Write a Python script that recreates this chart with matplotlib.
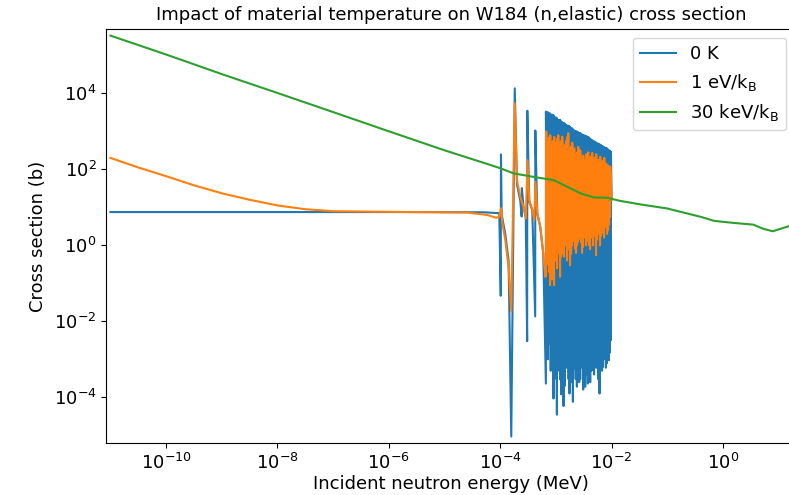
import numpy as np
import matplotlib
matplotlib.use("Agg")
import matplotlib.pyplot as plt
import matplotlib.ticker as mticker

# ---------------- data (MeV, barns) ----------------
# 0 K : smooth part below the first resonance
blue_smooth_E = [1e-11, 1e-8, 1e-6, 5e-5, 9.6e-5]
blue_smooth_xs = [7.5, 7.5, 7.5, 7.4, 7.0]

# 0 K : isolated resonances / between-resonance points (energy, cross section)
blue_iso_E = [1.02e-4, 1.03e-4, 1.06e-4, 1.23e-4, 1.41e-4, 1.576e-4, 1.821e-4,
              1.995e-4, 2.286e-4, 2.42e-4, 2.44e-4, 2.62e-4, 2.87e-4,
              3.04e-4, 3.06e-4, 3.316e-4, 3.753e-4, 4.24e-4, 4.26e-4,
              4.616e-4, 5.226e-4, 5.916e-4]
blue_iso_xs = [0.047, 245, 6.5, 2.0, 0.4, 9.3e-6, 1.35e4,
               40, 15, 5.75, 32, 10, 6,
               3.0e-3, 3.47e3, 14, 8.5, 0.0135, 1.05e3,
               7, 3, 0.6]

# 0 K : dense resonance forest (resonance energy, peak, dip)
blue_forest_E = [6.61e-4, 7.74e-4, 8.41e-4, 9.05e-4, 9.71e-4, 1.042e-3, 1.132e-3,
                 1.245e-3, 1.369e-3, 1.512e-3, 1.629e-3, 1.754e-3, 1.883e-3,
                 2.020e-3, 2.158e-3, 2.382e-3, 2.619e-3, 2.845e-3, 3.091e-3,
                 3.357e-3, 3.753e-3, 4.128e-3, 4.616e-3, 5.077e-3, 5.514e-3,
                 6.066e-3, 6.506e-3, 6.98e-3, 7.58e-3, 8.23e-3, 8.94e-3, 9.71e-3]
blue_forest_peak = [3.3e3, 3.0e3, 2.5e3, 2.6e3, 2.0e3, 2.2e3, 1.9e3,
                    1.8e3, 1.66e3, 1.48e3, 1.26e3, 1.32e3, 1.12e3,
                    1.12e3, 1.0e3, 980, 890, 830, 790,
                    760, 710, 630, 560, 525, 480,
                    450, 420, 400, 370, 355, 316, 290]
blue_forest_dip = [2.3e-4, 2.6e-3, 6.3e-2, 9.3e-5, 1.0e-2, 3.5e-5, 2.1e-3,
                   1.2e-4, 5.9e-5, 1.5e-3, 1.6e-2, 1.26e-4, 1.4e-3,
                   7.6e-5, 5.8e-4, 1.9e-4, 2.5e-4, 4.0e-2, 1.6e-4,
                   1.9e-4, 2.3e-4, 2.5e-4, 1.4e-3, 9.5e-4, 6.3e-2,
                   1.26e-4, 4.3e-3, 6.3e-4, 1.9e-3, 7.9e-4, 9.5e-4, 3.2e-3]
# 0 K : further, smaller resonances lying between the ones above
blue_forest2_E = [7.15e-4, 8.07e-4, 8.72e-4, 9.37e-4, 1.006e-3, 1.086e-3, 1.187e-3,
                  1.306e-3, 1.439e-3, 1.569e-3, 1.69e-3, 1.817e-3, 1.95e-3,
                  2.088e-3, 2.267e-3, 2.498e-3, 2.73e-3, 2.965e-3, 3.221e-3,
                  3.55e-3, 3.936e-3, 4.365e-3, 4.841e-3, 5.29e-3, 5.783e-3,
                  6.282e-3, 6.739e-3, 7.274e-3, 7.9e-3, 8.578e-3, 9.317e-3]
blue_forest2_peak = [3.2e3, 2.8e3, 2.7e3, 2.4e3, 2.3e3, 2.0e3, 2.0e3,
                     1.7e3, 1.6e3, 1.45e3, 1.4e3, 1.25e3, 1.2e3,
                     1.08e3, 1.02e3, 950, 900, 820, 780,
                     740, 680, 600, 545, 500, 470,
                     440, 410, 385, 365, 335, 305]
blue_forest2_dip = [1.0e-3, 5e-4, 2e-3, 3e-4, 1e-3, 5e-4, 3e-4,
                    1e-3, 2e-4, 6e-4, 3e-4, 5e-4, 2.5e-4,
                    1e-3, 3e-4, 5e-4, 3e-4, 6e-4, 3e-4,
                    4e-4, 3e-4, 5e-4, 4e-4, 6e-4, 3e-4,
                    8e-4, 5e-4, 1e-3, 6e-4, 1.2e-3, 1.5e-3]
blue_end_E = [1.0e-2]
blue_end_xs = [16]

# 1 eV/kB : smooth part and isolated broadened resonances
orange_smooth_E = [1e-11, 3.16e-11, 1e-10, 3.16e-10, 1e-9, 3.16e-9, 1e-8,
                   3.16e-8, 1e-7, 1e-6, 1e-5, 2.5e-5, 5.8e-5, 8.5e-5]
orange_smooth_xs = [200, 112, 66, 38, 23.4, 15.8, 11.2,
                    8.9, 7.9, 7.6, 7.4, 7.3, 6.3, 5.3]
orange_iso_E = [9.6e-5, 1.03e-4, 1.086e-4, 1.23e-4, 1.41e-4, 1.576e-4, 1.821e-4,
                1.995e-4, 2.286e-4, 2.62e-4, 2.87e-4, 3.09e-4, 3.316e-4,
                3.753e-4, 4.076e-4, 4.285e-4, 4.616e-4, 5.226e-4, 5.916e-4, 6.43e-4]
orange_iso_xs = [5.6, 9.5, 4.0, 1.38, 0.27, 0.0186, 5.5e3,
                 52, 19, 10.2, 5.0, 174, 15.5,
                 8.5, 4.6, 47, 7.1, 3.1, 0.62, 0.148]
orange_forest_E = [6.70e-4, 7.27e-4, 7.90e-4, 8.58e-4, 9.32e-4, 1.013e-3, 1.100e-3,
                   1.195e-3, 1.297e-3, 1.409e-3, 1.531e-3, 1.663e-3, 1.806e-3,
                   1.962e-3, 2.131e-3, 2.314e-3, 2.514e-3, 2.731e-3, 2.966e-3,
                   3.222e-3, 3.500e-3, 3.801e-3, 4.128e-3, 4.484e-3, 4.871e-3,
                   5.290e-3, 5.746e-3, 6.241e-3, 6.779e-3, 7.363e-3, 7.998e-3,
                   8.687e-3, 9.44e-3]
orange_forest_peak = [980, 400, 790, 316, 710, 500, 790,
                      400, 720, 316, 560, 890, 250,
                      500, 355, 158, 390, 316, 214,
                      158, 250, 280, 158, 270, 200,
                      250, 126, 214, 158, 200, 141,
                      126, 117]
orange_forest_dip = [0.155, 0.32, 0.089, 0.126, 0.089, 0.40, 0.63,
                     0.148, 1.26, 0.50, 1.6, 0.79, 0.30,
                     1.0, 2.0, 0.63, 1.26, 2.5, 0.63,
                     2.0, 1.0, 3.2, 0.79, 1.6, 4.0,
                     0.55, 2.0, 1.0, 3.2, 1.6, 4.0,
                     2.5, 5.6]
orange_forest2_E = [6.98e-4, 7.58e-4, 8.23e-4, 8.94e-4, 9.71e-4, 1.055e-3, 1.146e-3,
                    1.245e-3, 1.352e-3, 1.469e-3, 1.596e-3, 1.733e-3, 1.883e-3,
                    2.045e-3, 2.221e-3, 2.412e-3, 2.62e-3, 2.846e-3, 3.091e-3,
                    3.358e-3, 3.647e-3, 3.961e-3, 4.302e-3, 4.673e-3, 5.076e-3,
                    5.514e-3, 5.989e-3, 6.505e-3, 7.065e-3, 7.674e-3, 8.335e-3,
                    9.055e-3]
orange_forest2_peak = [600, 700, 500, 560, 450, 630, 500,
                       560, 400, 450, 700, 350, 400,
                       300, 250, 280, 250, 200, 230,
                       180, 220, 200, 220, 180, 200,
                       170, 180, 150, 170, 130, 120,
                       115]
orange_forest2_dip = [0.4, 0.2, 0.3, 0.2, 0.6, 0.25, 0.9,
                      0.5, 0.6, 1.0, 0.4, 0.8, 0.6,
                      1.3, 0.8, 1.0, 1.5, 1.2, 0.9,
                      1.6, 1.3, 1.0, 2.2, 1.0, 1.8,
                      1.4, 2.5, 1.8, 2.2, 3.0, 2.0,
                      3.5]
orange_end_E = [1.0e-2]
orange_end_xs = [16]

# 30 keV/kB
green_E = [1e-11, 1e-10, 1e-9, 1e-8, 1e-7, 1e-6, 1e-5, 4.4e-5, 1e-4, 1.74e-4,
           4.0e-4, 9.1e-4, 1.58e-3, 2.75e-3, 4.8e-3, 8.3e-3, 1.41e-2, 3.2e-2,
           0.1, 0.4, 0.69, 1.5, 3.5, 5.2, 7.8, 15.3, 20.0]
green_xs = [3.3e5, 1.05e5, 3.2e4, 1.02e4, 3.2e3, 1.0e3, 316, 158, 107, 78,
            63, 52, 35, 23.4, 18.2, 17.8, 14.8, 12.0,
            9.3, 5.6, 4.4, 3.9, 3.5, 2.75, 2.34, 3.2, 3.6]

labels = ["0 K", "1 eV/k$_\\mathrm{B}$", "30 keV/k$_\\mathrm{B}$"]


def forest_path(E, peak, dip, shift):
    order = np.argsort(E)
    xs, ys = [], []
    for i in order:
        xs += [E[i] * shift, E[i]]
        ys += [dip[i], peak[i]]
    return xs, ys


bfx, bfy = forest_path(blue_forest_E + blue_forest2_E,
                       blue_forest_peak + blue_forest2_peak,
                       blue_forest_dip + blue_forest2_dip, 0.998)
ofx, ofy = forest_path(orange_forest_E + orange_forest2_E,
                       orange_forest_peak + orange_forest2_peak,
                       orange_forest_dip + orange_forest2_dip, 0.992)

blue_x = blue_smooth_E + blue_iso_E + bfx + blue_end_E
blue_y = blue_smooth_xs + blue_iso_xs + bfy + blue_end_xs
orange_x = orange_smooth_E + orange_iso_E + ofx + orange_end_E
orange_y = orange_smooth_xs + orange_iso_xs + ofy + orange_end_xs

# ---------------- plotting ----------------
FS = 13
W, H = 789.0, 495.0
left_px, right_px, top_px, bottom_px = 106.5, 795.5, 28.7, 443.3
fig = plt.figure(figsize=(W / 100, H / 100), dpi=100)
ax = fig.add_axes([left_px / W, 1 - bottom_px / H,
                   (right_px - left_px) / W, (bottom_px - top_px) / H])

ax.loglog(blue_x, blue_y, color="C0", lw=1.5, label=labels[0])
ax.loglog(orange_x, orange_y, color="C1", lw=1.5, label=labels[1])
ax.loglog(green_E, green_xs, color="C2", lw=1.5, label=labels[2])

ax.set_xlim(10 ** -11.07, 20.0)
ax.set_ylim(10 ** -5.21, 10 ** 5.70)

ax.set_xlabel("Incident neutron energy (MeV)", fontsize=FS, labelpad=1)
ax.set_ylabel("Cross section (b)", fontsize=FS, labelpad=5)
ax.set_title("Impact of material temperature on W184 (n,elastic) cross section", fontsize=FS)
ax.tick_params(axis="both", which="major", labelsize=FS)
ax.xaxis.set_major_locator(mticker.FixedLocator([1e-10, 1e-8, 1e-6, 1e-4, 1e-2, 1e0]))
ax.yaxis.set_major_locator(mticker.FixedLocator([1e-4, 1e-2, 1e0, 1e2, 1e4]))
ax.xaxis.set_minor_locator(mticker.NullLocator())
ax.yaxis.set_minor_locator(mticker.NullLocator())
ax.xaxis.set_major_formatter(mticker.LogFormatterSciNotation())
ax.yaxis.set_major_formatter(mticker.LogFormatterSciNotation())

ax.legend(loc="upper right", fontsize=FS)

fig.savefig("out.png", dpi=100)
